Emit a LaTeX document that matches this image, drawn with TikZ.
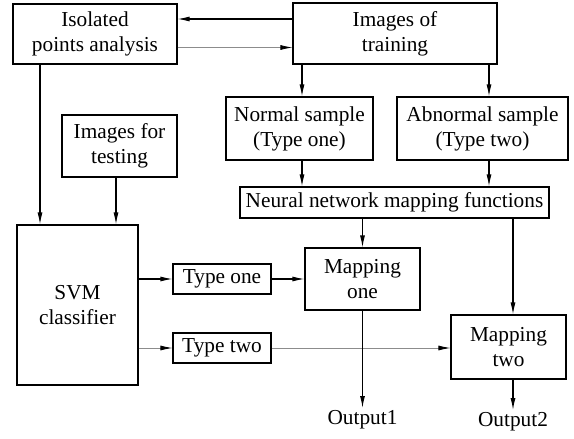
\documentclass[tikz,border=0pt]{standalone}
\usepackage{fontspec}
\setmainfont{Liberation Serif}
\usetikzlibrary{arrows.meta,calc}
\newcommand{\lblfont}{\fontsize{21.3}{25}\selectfont}
\begin{document}
\begin{tikzpicture}[x=1pt,y=-1pt,
  box/.style={draw, line width=1.1pt, inner sep=0pt, align=center, font=\lblfont},
  arr/.style={line width=1.1pt, -{Latex[length=12pt,width=5pt]}},
  thinarr/.style={line width=0.8pt, draw=black!45, -{Latex[length=12pt,width=5pt,color=black]}},
  outlbl/.style={inner sep=2pt, font=\lblfont}]
\useasboundingbox (0,0) rectangle (574,439);

% boxes
\node[box, minimum width=164pt, minimum height=60pt] (iso) at (95,34) {Isolated\\points analysis};
\node[box, minimum width=204pt, minimum height=61pt] (train) at (395,33.5) {Images of\\training};
\node[box, minimum width=147pt, minimum height=63pt] (normal) at (299.5,128.5) {Normal sample\\(Type one)};
\node[box, minimum width=171pt, minimum height=63pt] (abnormal) at (482.5,128.5) {Abnormal sample\\(Type two)};
\node[box, minimum width=115pt, minimum height=62pt] (test) at (119.5,146) {Images for\\testing};
\node[box, minimum width=309pt, minimum height=31pt] (nn) at (394.5,202.5) {Neural network mapping functions};
\node[box, minimum width=121pt, minimum height=160pt] (svm) at (77.5,305) {SVM\\classifier};
\node[box, minimum width=98pt, minimum height=30pt] (typeone) at (222,279) {Type one};
\node[box, minimum width=115pt, minimum height=62pt] (mapone) at (362.5,279) {Mapping\\one};
\node[box, minimum width=98pt, minimum height=30pt] (typetwo) at (222,348) {Type two};
\node[box, minimum width=115pt, minimum height=64pt] (maptwo) at (508.5,347) {Mapping\\two};
\node[outlbl, anchor=north] (out1) at (362.5,408) {Output1};
\node[outlbl, anchor=north] (out2) at (513,410) {Output2};

% connectors between isolated points analysis and training images
\draw[arr] ([yshift=14.5pt]train.west) -- ([yshift=14.5pt]train.west -| iso.east);
\draw[thinarr] ([yshift=-13.5pt]iso.east) -- ([yshift=-13.5pt]iso.east -| train.west);

% training images split into the two samples
\draw[arr] ([xshift=2.5pt]normal.north |- train.south) -- ([xshift=2.5pt]normal.north);
\draw[arr] ([xshift=6.5pt]abnormal.north |- train.south) -- ([xshift=6.5pt]abnormal.north);
\draw[arr] ([xshift=2.5pt]normal.south) -- ([xshift=2.5pt]normal.south |- nn.north);
\draw[arr] ([xshift=6.5pt]abnormal.south) -- ([xshift=6.5pt]abnormal.south |- nn.north);

% mapping functions
\draw[arr] (mapone.north |- nn.south) -- (mapone.north);
\draw[arr] ([xshift=4.5pt]maptwo.north |- nn.south) -- ([xshift=4.5pt]maptwo.north);

% classifier inputs
\coordinate (isodrop) at ([xshift=-55pt]iso.south);
\draw[arr] (isodrop) -- (isodrop |- svm.north);
\draw[arr] ([xshift=-3.5pt]test.south) -- ([xshift=-3.5pt]test.south |- svm.north);

% classifier outputs
\draw[arr] (svm.east |- typeone.west) -- (typeone.west);
\draw[arr] (typeone.east) -- (mapone.west);
\draw[thinarr] (svm.east |- typetwo.west) -- (typetwo.west);
\draw[thinarr] (typetwo.east) -- (typetwo.east -| maptwo.west);

% final outputs
\draw[arr] (mapone.south) -- (out1.north);
\draw[arr] ([xshift=4.5pt]maptwo.south) -- (out2.north);
\end{tikzpicture}
\end{document}
